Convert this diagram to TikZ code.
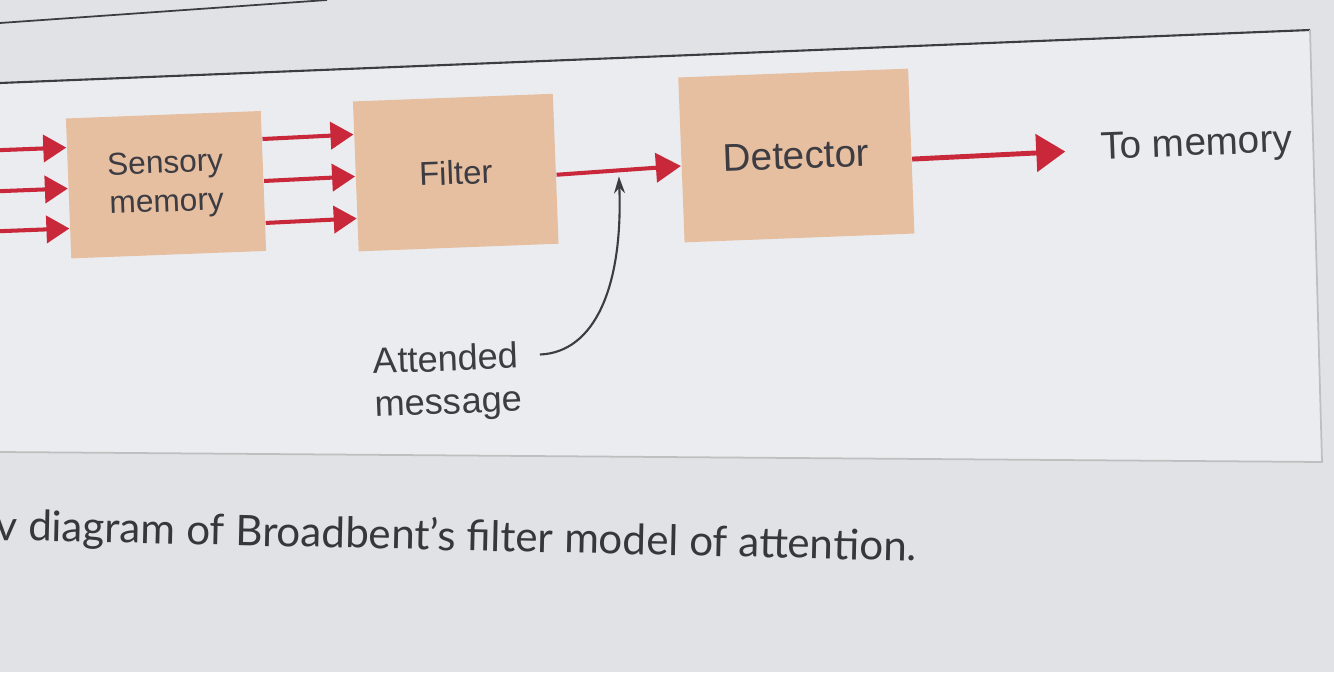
\documentclass[tikz,border=0pt]{standalone}
\usepackage{fontspec}
\usetikzlibrary{arrows.meta,calc}
\newfontfamily\diafont{Liberation Sans}
\newfontfamily\capfont{Lato}
\definecolor{arrowred}{RGB}{200,40,58}
\definecolor{boxtan}{RGB}{230,190,160}
\definecolor{pagegrey}{RGB}{224,226,230}
\definecolor{panelgrey}{RGB}{234,236,239}
\definecolor{inkgrey}{RGB}{60,60,66}
\tikzset{
  box/.style={draw=none, fill=boxtan, align=center, inner sep=2pt,
    font=\diafont\fontsize{9}{11}\selectfont, text=inkgrey},
  labeltext/.style={align=left, inner sep=2pt,
    font=\diafont\fontsize{10.3}{12.2}\selectfont, text=inkgrey},
  flow/.style={draw=arrowred, line width=1.15pt,
    -{Triangle[length=0.23cm,width=0.27cm]}, arrowred},
  pointer/.style={draw=inkgrey, line width=0.6pt,
    -{Stealth[length=0.17cm,width=0.11cm]}}
}
\begin{document}
\begin{tikzpicture}
  \useasboundingbox (0,0) rectangle (13.34,6.72);
  \fill[pagegrey] (0,0) rectangle (13.34,6.72);

  % Page edges
  \draw[inkgrey, line width=0.5pt] (0,6.49) -- (3.27,6.72);
  \fill[panelgrey] (0,5.89) -- (13.10,6.42) -- (13.22,2.10) -- (0,2.20) -- cycle;
  \draw[inkgrey, line width=0.6pt] (0,5.89) -- (13.10,6.42);
  \draw[gray!50, line width=0.5pt] (13.10,6.42) -- (13.22,2.10) -- (0,2.20);

  % Diagram, tilted as on the page
  \begin{scope}[rotate around={2.2:(0,5.89)}, transform shape]
    \node[box, minimum width=1.95cm, minimum height=1.40cm] (sens) at (1.62,4.81) {Sensory\\memory};
    \node[box, minimum width=2.00cm, minimum height=1.50cm,
      font=\diafont\fontsize{9.4}{11}\selectfont] (filt) at (4.52,4.82) {Filter};
    \node[box, minimum width=2.30cm, minimum height=1.65cm,
      font=\diafont\fontsize{11}{13}\selectfont] (det) at (7.93,4.86) {Detector};
    \node[labeltext, anchor=west, font=\diafont\fontsize{11}{13}\selectfont] (mem) at (10.90,4.80) {To memory};
    \node[labeltext] (att) at (4.36,2.72) {Attended\\message};

    % Incoming channels
    \foreach \dy in {0.41,0,-0.40} {
      \coordinate (in) at ([yshift=\dy cm]sens.west);
      \draw[flow] ([xshift=-0.8cm]in) -- (in);
    }
    % Channels into the filter
    \foreach \dy in {0.42,0,-0.42} {
      \draw[flow] ([yshift=\dy cm]sens.east) -- ([yshift=\dy cm]filt.west);
    }
    \draw[flow, -{Triangle[length=0.25cm,width=0.29cm]}] ([yshift=-0.06cm]filt.east) -- ([yshift=-0.06cm]det.west);
    \draw[flow, line width=1.4pt, shorten >=0.28cm, -{Triangle[length=0.29cm,width=0.37cm]}]
      ([yshift=-0.08cm]det.east) -- (mem.west);

    % Attended message pointer
    \coordinate (join) at ($(filt.east)!0.5!(det.west)+(0,-0.12)$);
    \draw[pointer] ([shift={(0.12,0.25)}]att.east) .. controls +(0.55,0) and +(0,-1.1) .. (join);
  \end{scope}

  % Caption
  \node[anchor=base west, inner sep=0pt, text=inkgrey!90!black, rotate=-1.3,
    font=\capfont\fontsize{12}{14}\selectfont] (cap) at (-0.05,1.32)
    {v diagram of Broadbent’s filter model of attention.};
\end{tikzpicture}
\end{document}
